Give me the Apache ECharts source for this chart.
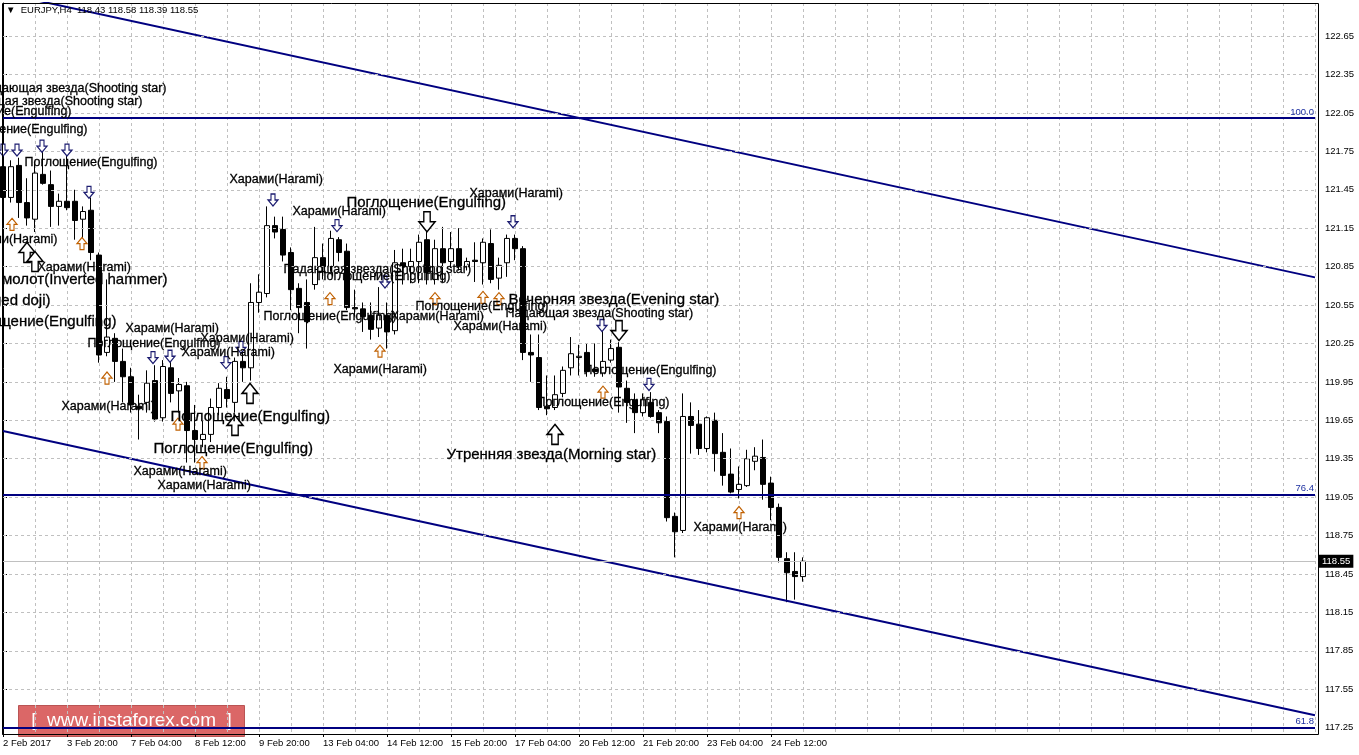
<!DOCTYPE html>
<html><head><meta charset="utf-8">
<script src="https://cdn.jsdelivr.net/npm/echarts@6/dist/echarts.min.js"></script>
<style>html,body{margin:0;padding:0;background:#fff}#c{width:1359px;height:755px}</style>
</head><body><div id="c"></div>
<script>
// ---- data ----
const symbolName = 'EURJPY,H4';
const tickLabels = ['2 Feb 2017','3 Feb 20:00','7 Feb 04:00','8 Feb 12:00','9 Feb 20:00','13 Feb 04:00','14 Feb 12:00','15 Feb 20:00','17 Feb 04:00','20 Feb 12:00','21 Feb 20:00','23 Feb 04:00','24 Feb 12:00'];
const yTicks = [117.25,117.55,117.85,118.15,118.45,118.75,119.05,119.35,119.65,119.95,120.25,120.55,120.85,121.15,121.45,121.75,122.05,122.35,122.65];
const open  = [121.63,121.39,121.64,121.35,121.22,121.57,121.49,121.32,121.36,121.36,121.22,121.29,120.94,120.18,120.29,120.11,119.99,119.76,119.79,119.96,119.67,120.06,119.88,119.92,119.57,119.50,119.54,119.75,119.89,119.79,120.11,120.06,120.57,120.64,121.17,121.14,120.96,120.68,120.57,120.71,120.92,120.85,121.06,120.97,120.53,120.52,120.47,120.37,120.47,120.35,120.88,120.85,120.89,121.06,120.75,120.99,120.89,120.99,120.85,120.90,120.88,121.03,120.76,120.88,121.07,120.99,120.18,120.14,119.76,119.75,119.86,120.06,120.14,120.18,120.05,120.02,120.12,120.22,119.90,119.81,119.71,119.79,119.71,119.64,118.90,118.79,119.68,119.62,119.43,119.65,119.40,119.23,119.11,119.14,119.33,119.36,119.16,118.97,118.57,118.47,118.43];
const high  = [121.66,121.68,121.70,121.54,121.67,121.75,121.60,121.42,121.74,121.45,121.32,121.39,120.96,120.75,120.33,120.21,120.06,119.85,120.04,120.08,120.12,120.14,119.98,119.95,119.77,119.65,119.82,119.94,119.99,120.14,120.18,120.72,120.79,121.32,121.24,121.24,121.00,120.72,120.75,121.16,121.03,121.13,121.08,121.03,120.67,120.57,120.57,120.69,120.57,120.98,120.99,120.99,121.10,121.17,121.06,121.16,121.12,121.15,120.92,121.04,121.07,121.14,120.92,121.10,121.10,121.01,120.32,120.32,120.00,120.00,120.07,120.30,120.24,120.25,120.25,120.38,120.28,120.26,119.96,119.86,119.86,119.87,119.73,119.68,118.93,119.86,119.79,119.73,119.68,119.71,119.55,119.43,119.29,119.42,119.44,119.50,119.21,119.00,118.62,118.62,118.58];
const low   = [121.27,121.35,121.23,121.17,121.12,121.49,121.16,121.17,121.29,121.06,121.07,120.90,120.10,120.15,119.95,119.79,119.71,119.50,119.71,119.64,119.64,119.79,119.71,119.32,119.32,119.44,119.48,119.69,119.75,119.71,119.95,119.96,120.49,120.61,121.07,120.89,120.51,120.33,120.21,120.67,120.75,120.81,120.89,120.51,120.46,120.34,120.28,120.30,120.21,120.32,120.71,120.72,120.72,120.71,120.71,120.73,120.84,120.82,120.82,120.73,120.71,120.72,120.67,120.77,120.90,120.12,119.95,119.73,119.69,119.73,119.83,120.00,120.00,119.99,119.99,119.99,120.10,119.71,119.63,119.55,119.68,119.67,119.55,118.86,118.58,118.77,119.39,119.38,119.40,119.25,119.14,119.08,119.04,119.13,119.26,119.03,118.87,118.54,118.23,118.25,118.39];
const close = [121.39,121.63,121.35,121.23,121.58,121.50,121.32,121.36,121.31,121.21,121.28,120.96,120.16,120.30,120.11,119.99,119.77,119.74,119.94,119.66,120.07,119.86,119.93,119.57,119.50,119.54,119.75,119.90,119.82,120.11,120.06,120.57,120.65,121.17,121.12,120.94,120.67,120.53,120.42,120.92,120.85,121.07,120.96,120.53,120.52,120.46,120.36,120.47,120.34,120.88,120.85,120.89,121.04,120.81,120.99,120.88,120.99,120.85,120.89,120.89,121.04,120.75,120.86,121.07,120.99,120.18,120.16,119.75,119.74,119.85,120.04,120.17,120.15,120.03,120.03,120.11,120.21,119.91,119.79,119.71,119.81,119.68,119.63,118.89,118.78,119.68,119.61,119.43,119.67,119.39,119.22,119.09,119.15,119.35,119.37,119.15,118.97,118.58,118.46,118.43,118.55];
const fibLevels = [[122.01,'100.0'],[119.067,'76.4'],[117.25,'61.8']];
const upperChannel = [[0,122.985],[164,120.766]];
const lowerChannel = [[0,119.567],[164,117.348]];
// pattern markers: [bar, price]
const arrowsDownSmall = [[0,121.76],[1.75,121.76],[4.875,121.79],[8,121.76],[10.75,121.43],[18.75,120.14],[20.875,120.15],[27.875,120.10],[29.75,120.22],[33.75,121.37],[41.75,121.17],[47.75,120.73],[63.75,121.20],[74.875,120.39],[80.75,119.93]];
const arrowsUpSmall = [[1.125,121.18],[9.875,121.03],[13,119.98],[21.875,119.62],[24.875,119.32],[40.875,120.60],[47.125,120.19],[54,120.60],[60,120.61],[62,120.60],[75,119.87],[92,118.93]];
const arrowsDownBig = [[53,121.20],[77,120.35]];
const arrowsUpBig = [[3,120.96],[4,120.89],[29,119.61],[30.875,119.86],[69,119.54]];
// pattern labels: [bar, price, text]
const notesSmall = [
 [2.625,121.66,'Поглощение(Engulfing)'],[4.25,120.84,'Харами(Harami)'],[15.25,120.37,'Харами(Harami)'],
 [10.5,120.25,'Поглощение(Engulfing)'],[24.625,120.29,'Харами(Harami)'],[22.25,120.18,'Харами(Harami)'],
 [7.25,119.76,'Харами(Harami)'],[16.25,119.25,'Харами(Harami)'],[19.25,119.14,'Харами(Harami)'],
 [28.25,121.53,'Харами(Harami)'],[36.125,121.28,'Харами(Harami)'],[58.25,121.42,'Харами(Harami)'],
 [35,120.83,'Падающая звезда(Shooting star)'],[39.25,120.77,'Поглощение(Engulfing)'],[32.5,120.46,'Поглощение(Engulfing)'],
 [51.5,120.54,'Поглощение(Engulfing)'],[48.375,120.46,'Харами(Harami)'],[56.25,120.38,'Харами(Harami)'],
 [41.25,120.05,'Харами(Harami)'],[62.75,120.48,'Падающая звезда(Shooting star)'],[72.5,120.04,'Поглощение(Engulfing)'],
 [66.625,119.79,'Поглощение(Engulfing)'],[86.25,118.81,'Харами(Harami)']
];
const notesBig = [
 [20.875,119.68,'Поглощение(Engulfing)'],[18.75,119.43,'Поглощение(Engulfing)'],[42.875,121.35,'Поглощение(Engulfing)'],
 [63.125,120.59,'Вечерняя звезда(Evening star)'],[55.375,119.38,'Утренняя звезда(Morning star)']
];
const notesSmallEnd = [
 [20.5,122.24,'Падающая звезда(Shooting star)'],[17.5,122.14,'Падающая звезда(Shooting star)'],
 [8.625,122.06,'Поглощение(Engulfing)'],[10.625,121.92,'Поглощение(Engulfing)'],[6.875,121.06,'Харами(Harami)']
];
const notesBigEnd = [
 [20.625,120.75,'Перевернутый молот(Inverted hammer)'],[6,120.58,'Длинноногий доджи(Long-legged doji)'],[14.25,120.42,'Поглощение(Engulfing)']
];
const SLOTS = 165;

// ---- build ----
const cats = [];
const kData = [];
for (let i = 0; i < SLOTS; i++) {
  cats.push(String(i));
  kData.push(i < open.length ? [open[i], close[i], low[i], high[i]] : '-');
}
const last = open.length - 1;
const FONT = 'Liberation Sans';
const downPath = 'path://M3,0L7,0L7,6L10,6L5,12L0,6L3,6Z';
const upPath = 'path://M5,0L10,6L7,6L7,12L3,12L3,6L0,6Z';

function arrowSeries(rows, path, size, color, bw) {
  return {type:'scatter', xAxisIndex:1, yAxisIndex:0, silent:true, z:6, symbol:path, symbolSize:size,
    itemStyle:{color:'#fff', borderColor:color, borderWidth:bw, opacity:1}, data:rows};
}
function noteSeries(rows, size, pos) {
  return {type:'scatter', xAxisIndex:1, yAxisIndex:0, silent:true, z:7, symbolSize:1,
    itemStyle:{color:'#fff', opacity:0},
    data: rows.map(r => ({value:[r[0], r[1]], name:r[2]})),
    label:{show:true, position:pos, distance:0, formatter:p => p.name, fontFamily:FONT, fontSize:size,
      color:'#000', opacity:1, textBorderColor:'#000', textBorderWidth:0.3}};
}

const chart = echarts.init(document.getElementById('c'), null, {renderer:'canvas'});
chart.setOption({
  animation:false,
  backgroundColor:'#fff',
  textStyle:{fontFamily:FONT},
  grid:{left:3, top:3, width:1312, height:731},
  xAxis:[{
    type:'category', data:cats, boundaryGap:false,
    axisLine:{show:true, lineStyle:{color:'#000'}},
    axisTick:{show:true, length:3, interval:(i) => i % 8 === 0 && i / 8 < tickLabels.length, lineStyle:{color:'#000'}},
    axisLabel:{show:true, interval:(i) => i % 8 === 0 && i / 8 < tickLabels.length, align:'left', margin:4,
      formatter:(v, i) => tickLabels[i / 8] || '', fontSize:9.5, color:'#000', fontFamily:FONT},
    splitLine:{show:true, interval:(i) => i % 4 === 0, lineStyle:{color:'#c0c0c0', type:[3,3], width:1}}
  },{
    type:'value', min:0, max:SLOTS - 1, show:false
  }],
  yAxis:{
    type:'value', position:'right', offset:3, min:117.201, max:122.908, scale:true,
    axisLine:{show:true, lineStyle:{color:'#000'}},
    axisTick:{show:true, length:4, customValues:yTicks, lineStyle:{color:'#000'}},
    axisLabel:{customValues:yTicks, formatter:v => v.toFixed(2), margin:7, fontSize:9.5, color:'#000', fontFamily:FONT},
    splitLine:{show:false}
  },
  series:[
    {type:'line', xAxisIndex:1, data:[], z:0, silent:true,
      markLine:{silent:true, symbol:['none','none'], label:{show:false},
        lineStyle:{color:'#c0c0c0', type:[3,3], width:1},
        data:yTicks.map(v => ({yAxis:v}))}},
    {type:'candlestick', xAxisIndex:0, yAxisIndex:0, data:kData, barWidth:5, z:2, silent:true,
      itemStyle:{color:'#fff', color0:'#000', borderColor:'#000', borderColor0:'#000', borderWidth:1},
      markLine:{silent:true, symbol:['none','none'],
        lineStyle:{color:'#c0c0c0', type:'solid', width:1},
        label:{show:true, position:'end', distance:4, formatter:() => close[last].toFixed(2),
          backgroundColor:'#000', color:'#fff', padding:[2,3,1,3], fontSize:9.5, fontFamily:FONT},
        data:[{yAxis:close[last]}]}},
    {type:'line', xAxisIndex:1, data:[], z:3, silent:true,
      markLine:{silent:true, symbol:['none','none'],
        lineStyle:{color:'#000080', type:'solid', width:2},
        label:{show:true, position:'insideEndTop', distance:[1,1], color:'#1c2fa0', fontSize:9.5, fontFamily:FONT, formatter:p => p.name},
        data:fibLevels.map(f => ({yAxis:f[0], name:f[1]}))}},
    {type:'line', xAxisIndex:1, data:upperChannel, symbol:'none', z:3, silent:true, lineStyle:{color:'#000080', width:2}},
    {type:'line', xAxisIndex:1, data:lowerChannel, symbol:'none', z:3, silent:true, lineStyle:{color:'#000080', width:2}},
    arrowSeries(arrowsDownSmall, downPath, [10,12], '#1c1c70', 1.2),
    arrowSeries(arrowsUpSmall, upPath, [10,12], '#c06000', 1.2),
    arrowSeries(arrowsDownBig, downPath, [16,20], '#000', 1.5),
    arrowSeries(arrowsUpBig, upPath, [16,20], '#000', 1.5),
    noteSeries(notesSmall, 12.5, 'right'),
    noteSeries(notesBig, 15, 'right'),
    noteSeries(notesSmallEnd, 12.5, 'left'),
    noteSeries(notesBigEnd, 15, 'left')
  ],
  graphic:[
    {type:'rect', z:100, silent:true, shape:{x:2.5, y:3.5, width:1316, height:731}, style:{fill:'none', stroke:'#000', lineWidth:1}},
    {type:'text', z:100, left:6, top:5, silent:true,
      style:{text:'▼  ' + symbolName + '  ' + [open[last], high[last], low[last], close[last]].map(v => v.toFixed(2)).join(' '),
        font:'9.5px "Liberation Sans"', fill:'#000'}},
    {type:'group', z:100, left:18, top:705, silent:true, children:[
      {type:'rect', shape:{x:0, y:0, width:226, height:31}, style:{fill:'rgba(205,45,45,0.72)', stroke:'rgba(150,20,20,0.6)', lineWidth:1}},
      {type:'text', style:{x:113, y:15, text:'[  www.instaforex.com  ]', font:'19px "Liberation Sans"', fill:'#fff', align:'center', verticalAlign:'middle'}}
    ]}
  ]
});
</script>
</body></html>
